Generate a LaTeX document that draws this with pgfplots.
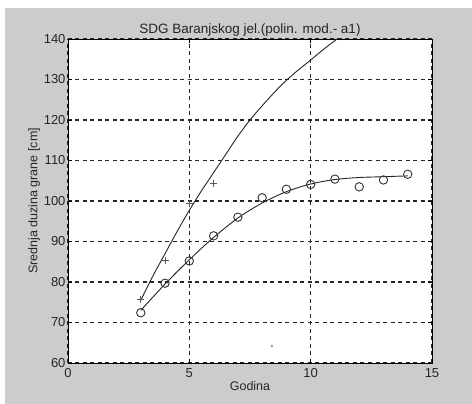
\documentclass[border=0pt]{standalone}
\usepackage{pgfplots}
\pgfplotsset{compat=1.18}
\usepackage{fontspec}
\setmainfont{Liberation Sans}
\definecolor{bg}{RGB}{204,204,204}
\begin{document}
\begin{tikzpicture}[x=1pt,y=1pt]
\fill[white] (-68,-41) rectangle (404,363);
\fill[bg] (-63,-41) rectangle (404,355);
\begin{axis}[
  at={(0,0)}, anchor=south west,
  width=364pt, height=324pt, scale only axis,
  xmin=0, xmax=15, ymin=60, ymax=140,
  xtick={0,5,10,15}, ytick={60,70,...,140},
  axis background/.style={fill=white},
  axis line style={black, line width=0.9pt},
  tick style={black, line width=0.6pt}, tick align=inside,
  major tick length=4pt,
  grid=major,
  major grid style={black!85, line width=1.1pt, dash pattern=on 4pt off 3.5pt},
  ticklabel style={font=\fontsize{13}{15}\selectfont, text=black!85},
  /pgf/number format/assume math mode=true,
  xticklabel style={yshift=-2pt},
  yticklabel style={xshift=1pt},
  xlabel={Godina}, ylabel={Srednja duzina grane [cm]},
  xlabel style={font=\fontsize{12.5}{14}\selectfont, text=black!85, yshift=3pt},
  ylabel style={font=\fontsize{12.5}{14}\selectfont, text=black!85, yshift=-3pt},
  title={SDG Baranjskog jel.(polin. mod.- a1)},
  title style={font=\fontsize{13.5}{15}\selectfont, text=black!85, yshift=-7pt},
  clip=true,
]
% fit curve for + data
\addplot[black!85, line width=0.9pt, smooth] coordinates {
(3,75.5) (3.5,81.5) (4,87) (4.5,92.5) (5,97.7) (5.5,102.5) (6,107) (6.5,111.5)
(7,116) (7.5,120) (8,123.5) (8.5,126.8) (9,129.8) (9.5,132.4) (10,134.8) (10.5,137.3)
(11,139.6) (11.5,141.8)};
% fit curve for o data
\addplot[black!85, line width=0.9pt, smooth] coordinates {
(3,73) (4,79.5) (5,85.5) (6,91) (7,95.8) (8,99.5) (9,102.3) (10,104.2)
(11,105.3) (12,105.8) (13,106) (14,106.2)};
% + data
\addplot[only marks, mark=+, mark size=3.5pt, black!65, mark options={line width=1pt}] coordinates {
(3,75.7) (4,85.3) (5,99.3) (6,104.4)};
% o data
\addplot[only marks, mark=o, mark size=4.2pt, black!80, mark options={line width=0.9pt}] coordinates {
(3,72.4) (4,79.7) (5,85.2) (6,91.4) (7,96.0) (8,100.8) (9,102.9) (10,104.1)
(11,105.4) (12,103.5) (13,105.2) (14,106.6)};
% stray speck
\addplot[only marks, mark=*, mark size=1pt, black!45] coordinates {(8.4,64.2)};
\end{axis}
\end{tikzpicture}
\end{document}
